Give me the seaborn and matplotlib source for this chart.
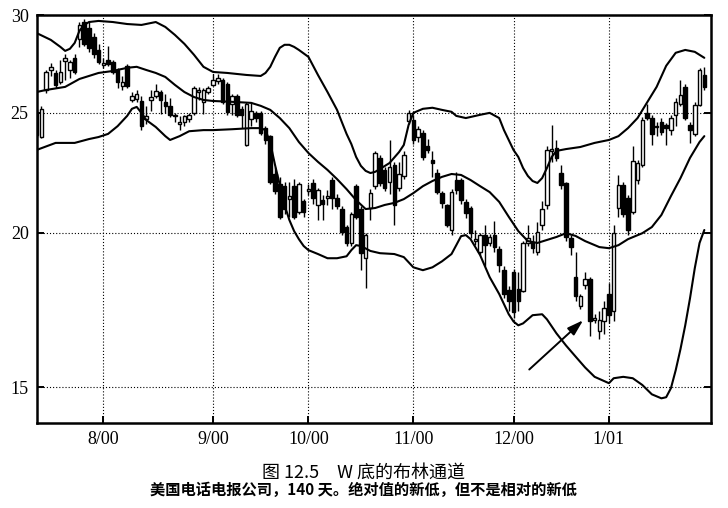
import numpy as np
import pandas as pd
import matplotlib
matplotlib.use("Agg")
import matplotlib.pyplot as plt
import seaborn as sns
from matplotlib.ticker import NullLocator, NullFormatter

# ---------------- data ----------------
days = list(range(141))
open_ = [25.05, 23.9, 26.1, 27.1, 26.95, 26.5, 27.55, 27.1, 27.7, 28.7,
         29.6, 29.3, 28.8, 28.1, 27.35, 27.6, 27.5, 27.1, 26.3, 27.3,
         25.6, 25.65, 25.55, 24.7, 25.6, 25.8, 26.0, 25.5, 25.3, 24.85,
         24.5, 24.6, 24.7, 25.0, 26.0, 25.5, 26.0, 26.35, 26.55, 26.6,
         26.4, 25.4, 25.8, 25.2, 23.55, 24.7, 25.0, 25.0, 24.3, 23.95,
         22.3, 21.9, 21.8, 21.3, 21.8, 20.8, 21.2, 21.62, 21.94, 21.06,
         21.25, 21.35, 22.06, 21.35, 20.9, 20.2, 19.62, 21.8, 20.9, 19.07,
         20.94, 21.81, 22.99, 22.48, 21.98, 22.69, 21.74, 22.23, 24.62, 24.67,
         23.9, 24.1, 23.5, 22.9, 22.35, 21.53, 21.06, 20.1, 22.06, 22.06,
         21.18, 20.94, 19.7, 19.29, 19.91, 19.62, 19.91, 19.4, 18.65, 17.97,
         18.6, 18.0, 17.95, 19.62, 19.65, 19.29, 20.29, 21.06, 23.3, 23.42,
         22.35, 21.94, 19.8, 18.41, 17.44, 18.14, 18.34, 17.0, 16.66, 16.96,
         17.84, 17.3, 20.94, 21.86, 21.35, 20.8, 22.06, 22.69, 25.0, 24.76,
         24.4, 24.58, 24.44, 24.21, 24.91, 25.43, 26.24, 24.44, 24.04, 25.38,
         26.83]
close = [23.99, 25.2, 27.0, 27.25, 26.35, 27.0, 27.7, 27.5, 27.0, 29.45,
         28.4, 28.2, 27.9, 27.5, 27.4, 27.4, 27.0, 26.5, 26.5, 26.3,
         25.8, 25.9, 24.4, 24.85, 25.75, 26.05, 25.6, 25.3, 24.9, 24.9,
         24.6, 24.85, 24.9, 26.2, 26.1, 26.1, 26.2, 26.6, 26.7, 25.5,
         25.05, 25.8, 24.9, 24.9, 25.4, 25.1, 24.75, 24.1, 23.75, 22.0,
         21.6, 20.6, 20.9, 21.4, 20.6, 21.9, 20.8, 21.68, 21.35, 21.65,
         21.1, 21.4, 21.35, 21.0, 20.02, 19.62, 20.71, 20.6, 19.25, 19.9,
         21.53, 23.2, 21.94, 21.74, 22.6, 21.06, 22.31, 23.11, 25.0, 23.77,
         24.25, 23.03, 23.35, 22.77, 21.57, 21.14, 20.29, 21.57, 21.65, 21.25,
         20.75, 19.98, 19.76, 19.9, 19.54, 19.84, 19.47, 18.82, 17.84, 17.6,
         17.25, 17.6, 19.62, 19.8, 19.43, 20.02, 20.9, 23.33, 23.35, 22.99,
         21.86, 19.84, 19.47, 17.77, 17.77, 18.34, 16.96, 17.05, 17.0, 17.37,
         17.15, 20.0, 21.86, 20.7, 20.1, 22.85, 22.77, 24.67, 24.76, 24.04,
         24.35, 24.12, 24.3, 24.76, 25.52, 25.85, 24.76, 24.21, 25.38, 27.08,
         26.24]
high = [25.2, 25.3, 27.1, 27.45, 27.1, 27.6, 27.9, 27.6, 27.9, 29.6,
        29.8, 29.6, 29.0, 28.4, 27.7, 28.3, 27.6, 27.2, 26.8, 27.4,
        26.0, 26.1, 25.8, 25.3, 26.1, 26.4, 26.1, 25.9, 25.7, 25.0,
        24.85, 24.9, 25.0, 26.3, 26.25, 26.2, 26.3, 26.9, 26.9, 26.7,
        26.5, 25.9, 25.9, 25.3, 25.5, 25.5, 25.1, 25.1, 24.4, 24.0,
        22.6, 22.2, 22.0, 22.0, 22.1, 22.0, 21.3, 21.9, 22.1, 21.75,
        21.45, 21.65, 22.2, 21.5, 21.0, 20.3, 20.8, 21.9, 21.0, 20.0,
        21.7, 23.3, 23.1, 22.6, 23.77, 22.8, 22.8, 23.3, 25.15, 24.9,
        24.4, 24.2, 23.8, 23.3, 22.5, 21.6, 21.1, 21.7, 22.4, 22.15,
        21.3, 21.0, 20.1, 20.0, 20.3, 19.95, 20.45, 19.5, 18.8, 18.1,
        18.7, 18.6, 19.7, 20.3, 19.9, 20.4, 21.2, 23.5, 24.45, 23.77,
        22.7, 22.0, 19.9, 19.3, 17.85, 18.6, 18.4, 17.2, 17.3, 17.6,
        18.2, 20.3, 22.25, 22.0, 21.45, 23.5, 22.9, 24.8, 25.4, 24.9,
        24.6, 24.75, 24.55, 24.9, 25.7, 26.6, 26.4, 24.6, 25.5, 27.2,
        27.25]
low = [23.9, 23.85, 25.95, 26.8, 26.2, 26.4, 26.6, 26.7, 26.9, 28.25,
       28.3, 28.0, 27.7, 27.4, 27.2, 27.3, 26.9, 26.2, 26.1, 26.2,
       25.5, 25.5, 24.2, 24.5, 25.1, 25.7, 24.95, 25.0, 24.8, 24.6,
       24.2, 24.4, 24.6, 24.9, 25.6, 24.95, 25.9, 26.3, 26.4, 25.4,
       24.9, 24.9, 24.8, 24.3, 23.5, 24.4, 24.6, 24.0, 23.6, 21.9,
       21.5, 20.5, 20.7, 20.6, 20.5, 20.7, 20.6, 21.45, 21.1, 20.48,
       20.48, 21.06, 20.9, 20.9, 19.9, 19.5, 19.5, 20.5, 18.65, 18.05,
       20.48, 21.7, 21.8, 21.6, 21.5, 20.3, 21.6, 22.1, 24.5, 23.6,
       23.7, 22.9, 23.2, 22.2, 21.5, 20.95, 20.2, 19.9, 21.5, 21.1,
       20.55, 19.8, 19.55, 19.2, 18.79, 19.5, 19.3, 18.6, 17.7, 17.3,
       17.05, 17.3, 17.9, 19.5, 19.25, 19.2, 20.1, 20.9, 22.8, 22.85,
       21.7, 19.7, 19.2, 17.6, 17.35, 18.0, 16.5, 16.9, 16.4, 16.55,
       16.9, 16.95, 20.6, 20.6, 19.9, 20.7, 21.9, 22.6, 24.65, 23.55,
       23.95, 24.0, 23.55, 24.0, 24.4, 25.3, 24.65, 23.65, 23.95, 25.3,
       26.1]

upper_day = [0, 3, 5, 6, 7, 8, 9, 10, 11, 13, 16, 19, 22, 25, 27, 29, 31, 33, 35, 37,
             40, 44, 47, 48, 49, 50, 51, 52, 53, 54, 55, 57, 59, 61, 63, 64, 65, 66, 67, 68,
             69, 70, 71, 72, 74, 76, 77, 78, 79, 81, 83, 85, 87, 88, 90, 93, 95, 97, 98, 100,
             101, 102, 103, 104, 105, 106, 107, 108, 109, 111, 114, 117, 120, 122, 124, 126,
             128, 130, 132, 134, 136, 138, 140]
upper_val = [29.01, 28.64, 28.27, 28.06, 28.17, 28.48, 29.13, 29.45, 29.61, 29.67,
             29.61, 29.50, 29.45, 29.61, 29.34, 28.91, 28.43, 27.86, 27.24, 26.98,
             26.93, 26.83, 26.78, 26.93, 27.24, 27.75, 28.22, 28.38, 28.38, 28.27,
             28.11, 27.75, 26.83, 25.99, 25.14, 24.58, 24.04, 23.59, 23.03, 22.65,
             22.44, 22.35, 22.40, 22.52, 22.77, 23.24, 23.55, 24.44, 25.0, 25.19,
             25.24, 25.14, 25.05, 24.86, 24.76, 24.91, 25.0, 24.76, 24.21, 23.33,
             23.03, 22.56, 22.23, 22.02, 21.94, 22.14, 22.56, 23.03, 23.29, 23.37,
             23.46, 23.64, 23.77, 23.94, 24.30, 24.76, 25.49, 26.24, 27.29, 27.96,
             28.11, 28.01, 27.70]
mid_day = [0, 2, 6, 9, 13, 16, 19, 21, 23, 25, 27, 29, 31, 33, 35, 37, 41, 45, 47, 49,
           51, 53, 55, 57, 59, 61, 63, 65, 67, 69, 71, 73, 75, 77, 79, 81, 83, 85, 87, 89,
           91, 93, 95, 97, 99, 101, 103, 105, 107, 109, 111, 113, 115, 118, 120, 122, 124,
           127, 129, 131, 133, 135, 137, 139, 140]
mid_val = [25.99, 26.09, 26.24, 26.63, 26.93, 27.03, 27.19, 27.24, 27.08, 26.93,
           26.73, 26.34, 25.99, 25.75, 25.61, 25.56, 25.52, 25.47, 25.33, 25.14,
           24.76, 24.30, 23.68, 23.2, 22.82, 22.48, 22.10, 21.69, 21.25, 20.90,
           20.94, 21.06, 21.14, 21.29, 21.53, 21.81, 22.02, 22.19, 22.31, 22.27,
           22.06, 21.81, 21.57, 21.18, 20.60, 20.06, 19.69, 19.62, 19.73, 19.84,
           19.98, 19.88, 19.69, 19.47, 19.43, 19.54, 19.76, 19.98, 20.21, 20.67,
           21.41, 22.14, 22.99, 23.68, 23.94]
lower_day = [0, 4, 8, 11, 13, 15, 17, 19, 20, 21, 22, 23, 25, 27, 28, 30, 32, 35, 37, 41,
             45, 47, 48, 49, 50, 51, 52, 53, 54, 55, 56, 57, 59, 61, 63, 65, 66, 67, 68, 70,
             72, 75, 77, 79, 81, 83, 85, 87, 88, 89, 90, 91, 92, 93, 94, 95, 97, 99, 100, 101,
             102, 104, 106, 107, 109, 111, 113, 115, 117, 119, 120, 121, 123, 125, 127, 129,
             131, 132, 133, 134, 135, 136, 137, 138, 139, 140]
lower_val = [23.33, 23.64, 23.64, 23.81, 23.90, 24.04, 24.39, 24.86, 25.19, 25.28,
             25.0, 24.67, 24.35, 23.94, 23.77, 23.94, 24.16, 24.21, 24.21, 24.25,
             24.30, 24.30, 24.21, 23.64, 22.69, 21.86, 21.06, 20.48, 20.06, 19.76,
             19.51, 19.36, 19.22, 19.07, 19.07, 19.14, 19.36, 19.54, 19.51, 19.33,
             19.25, 19.22, 19.11, 18.75, 18.65, 18.75, 18.96, 19.22, 19.54, 19.87,
             19.91, 19.76, 19.47, 19.18, 18.79, 18.41, 17.84, 17.18, 16.95, 16.83,
             16.89, 17.15, 17.18, 17.02, 16.58, 16.21, 15.88, 15.56, 15.29, 15.17,
             15.11, 15.25, 15.29, 15.25, 15.06, 14.80, 14.69, 14.72, 14.97, 15.48,
             16.10, 16.83, 17.7, 18.72, 19.62, 20.10]

month_pos = [14, 37, 57, 79, 100, 120]
month_labels = ["8/00", "9/00", "10/00", "11/00", "12/00", "1/01"]
price_ticks = [15, 20, 25, 30]
price_labels = ["15", "20", "25", "30"]

title = "图 12.5\u3000W 底的布林通道"
subtitle = "美国电话电报公司，140 天。绝对值的新低，但不是相对的新低"

# ---------------- plotting ----------------
sns.set_theme(style="ticks")
serif = ['Liberation Serif', 'DejaVu Serif']
plt.rcParams['font.family'] = serif
cjk = ['Noto Sans CJK SC', 'DejaVu Sans']

fig = plt.figure(figsize=(7.28, 5.08), dpi=100)
ax = fig.add_axes([37 / 728, 1 - 423 / 508, (711 - 37) / 728, (423 - 15) / 508])
ax.set_yscale('log')

d = np.array(days)
o = np.array(open_)
c = np.array(close)
h = np.maximum(np.array(high), np.maximum(o, c))
l = np.minimum(np.array(low), np.minimum(o, c))
up = c >= o
body_lo = np.minimum(o, c)
body_h = np.maximum(np.abs(c - o), 0.06)

ax.vlines(d, l, h, color='black', lw=1.0, zorder=2)
ax.bar(d[up], body_h[up], bottom=body_lo[up], width=0.74, facecolor='white',
       edgecolor='black', linewidth=1.0, zorder=3)
ax.bar(d[~up], body_h[~up], bottom=body_lo[~up], width=0.74, facecolor='black',
       edgecolor='black', linewidth=1.0, zorder=3)

bands = pd.concat([
    pd.DataFrame({'day': upper_day, 'price': upper_val, 'band': 'upper'}),
    pd.DataFrame({'day': mid_day, 'price': mid_val, 'band': 'mid'}),
    pd.DataFrame({'day': lower_day, 'price': lower_val, 'band': 'lower'}),
])
for name, grp in bands.groupby('band'):
    sns.lineplot(data=grp, x='day', y='price', ax=ax, color='black', lw=1.5,
                 estimator=None, sort=False, zorder=4)

ax.annotate('', xy=(114.6, 16.99), xytext=(103.3, 15.5),
            arrowprops=dict(arrowstyle='-|>,head_length=0.8,head_width=0.25',
                            color='black', lw=1.4, shrinkA=0, shrinkB=0),
            zorder=5)

ax.set_xlim(0.1, 141.4)
ax.set_ylim(14.03, 30.0)
ax.set_xlabel('')
ax.set_ylabel('')

ax.yaxis.set_minor_locator(NullLocator())
ax.yaxis.set_minor_formatter(NullFormatter())
ax.xaxis.set_minor_locator(NullLocator())
ax.set_xticks(month_pos)
ax.set_xticklabels(month_labels, fontfamily=serif, fontsize=13, color='black')
ax.set_yticks(price_ticks)
ax.set_yticklabels(price_labels, fontfamily=serif, fontsize=13, color='black')
ax.yaxis.set_minor_locator(NullLocator())

ax.grid(True, which='major', color='black', linestyle=(0, (1, 1.8)), linewidth=0.8)
ax.set_axisbelow(True)
for s in ax.spines.values():
    s.set_visible(True)
    s.set_linewidth(1.8)
    s.set_color('black')
ax.tick_params(axis='both', which='major', direction='in', length=5, width=1.4,
               colors='black', pad=6)
ax.tick_params(axis='y', right=True, labelright=False)

fig.text(363 / 728, 1 - 473 / 508, title, ha='center', va='center',
         fontsize=13, family=cjk, color='black')
fig.text(363 / 728, 1 - 490 / 508, subtitle, ha='center', va='center',
         fontsize=11, fontweight='bold', family=cjk, color='black')

fig.savefig('out.png', dpi=100)
